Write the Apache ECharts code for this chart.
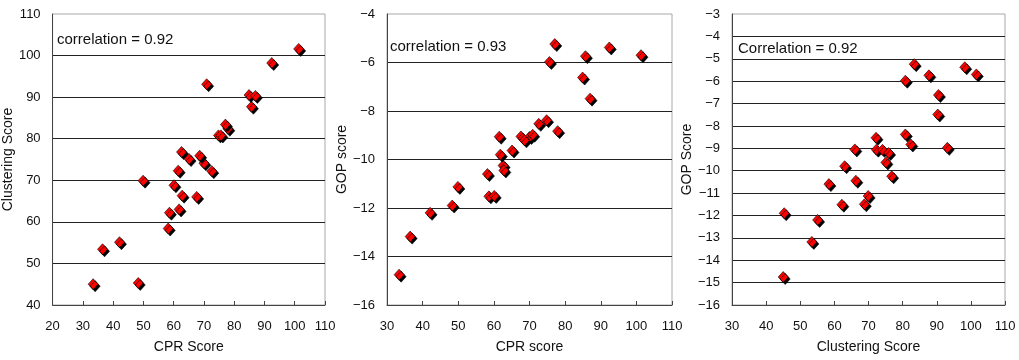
<!DOCTYPE html>
<html>
<head>
<meta charset="utf-8">
<script src="https://cdn.jsdelivr.net/npm/echarts@6/dist/echarts.min.js"></script>
<style>
html,body{margin:0;padding:0;background:#fff;}
#chart{width:1019px;height:360px;}
</style>
</head>
<body>
<div id="chart"></div>
<script>
const cprScore = [33.4, 36.5, 42.1, 48.3, 49.9, 58.6, 60.1, 58.2, 62.6, 62.8, 61.8, 65.1, 61.5, 67.6, 70.0, 68.6, 72.6, 70.9, 74.8, 77.9, 75.6, 77.1, 85.7, 92.4, 101.3, 84.9, 87.0];
const clusteringScore = [45.0, 53.4, 55.1, 45.3, 69.9, 62.2, 68.8, 58.4, 76.8, 66.3, 63.0, 75.1, 72.3, 66.0, 74.1, 75.9, 72.2, 93.1, 80.8, 82.4, 80.8, 83.4, 87.7, 98.2, 101.6, 90.5, 90.3];
const gopScore = [-14.75, -13.18, -12.2, -11.9, -11.13, -11.52, -11.5, -10.6, -10.25, -10.45, -9.8, -9.63, -9.06, -9.05, -9.07, -9.21, -8.53, -8.98, -8.38, -8.83, -5.98, -5.24, -5.74, -5.38, -5.7, -6.62, -7.49];

const correlationLabels = ['correlation = 0.92', 'correlation = 0.93', 'Correlation = 0.92'];
const xAxisNames = ['CPR Score', 'CPR score', 'Clustering Score'];
const yAxisNames = ['Clustering Score', 'GOP score', 'GOP Score'];
const xRanges = [[20, 110, 10], [30, 110, 10], [30, 110, 10]];
const yRanges = [[40, 110, 10], [-16, -4, 2], [-16, -3, 1]];

const panelX = [cprScore, cprScore, clusteringScore];
const panelY = [clusteringScore, gopScore, gopScore];

// ---- layout ----
const grids = [
  {left: 52, top: 14, width: 273, height: 291},
  {left: 387, top: 14, width: 285, height: 291},
  {left: 732, top: 14, width: 273, height: 291}
];
const yNameGap = [30, 32, 30];
const textPos = [[57, 32], [390, 39], [738, 41]];

const font = '"Liberation Sans", Arial, sans-serif';
const textColor = '#111';

const option = {
  animation: false,
  backgroundColor: '#fff',
  grid: grids.map(g => Object.assign({show: true, borderColor: '#a8a8a8', borderWidth: 1, backgroundColor: '#fff'}, g)),
  xAxis: xRanges.map((r, i) => ({
    gridIndex: i, type: 'value', min: r[0], max: r[1], interval: r[2],
    name: xAxisNames[i], nameLocation: 'middle', nameGap: 35,
    nameTextStyle: {fontFamily: font, fontSize: 14, color: textColor},
    axisLine: {show: true, onZero: false, lineStyle: {color: '#444', width: 1}},
    axisTick: {show: true, inside: true, length: 4, lineStyle: {color: '#444'}},
    axisLabel: {fontFamily: font, fontSize: 13, color: textColor, margin: 15},
    splitLine: {show: false}
  })),
  yAxis: yRanges.map((r, i) => ({
    gridIndex: i, type: 'value', min: r[0], max: r[1], interval: r[2],
    name: yAxisNames[i], nameLocation: 'middle', nameGap: yNameGap[i],
    nameTextStyle: {fontFamily: font, fontSize: 14, color: textColor},
    axisLine: {show: true, onZero: false, lineStyle: {color: '#444', width: 1}},
    axisTick: {show: false},
    axisLabel: {fontFamily: font, fontSize: 13, color: textColor, margin: 12,
      formatter: v => (v < 0 ? '\u2212' + Math.abs(v) : String(v))},
    splitLine: {show: true, showMinLine: false, showMaxLine: false, lineStyle: {color: '#222', width: 1}}
  })),
  graphic: correlationLabels.map((t, i) => ({
    type: 'text', left: textPos[i][0], top: textPos[i][1], z: 10,
    style: {text: t, fontFamily: font, fontSize: 15, fill: textColor}
  })),
  series: panelX.map((xs, i) => ({
    type: 'scatter', xAxisIndex: i, yAxisIndex: i,
    symbol: 'diamond', symbolSize: [10, 11],
    itemStyle: {color: '#ff0000', borderColor: '#000', borderWidth: 0.6, opacity: 1,
      shadowColor: '#000', shadowBlur: 0, shadowOffsetX: 2, shadowOffsetY: 2},
    data: xs.map((x, k) => [x, panelY[i][k]])
  }))
};

const chart = echarts.init(document.getElementById('chart'), null, {renderer: 'canvas'});
chart.setOption(option);
</script>
</body>
</html>
